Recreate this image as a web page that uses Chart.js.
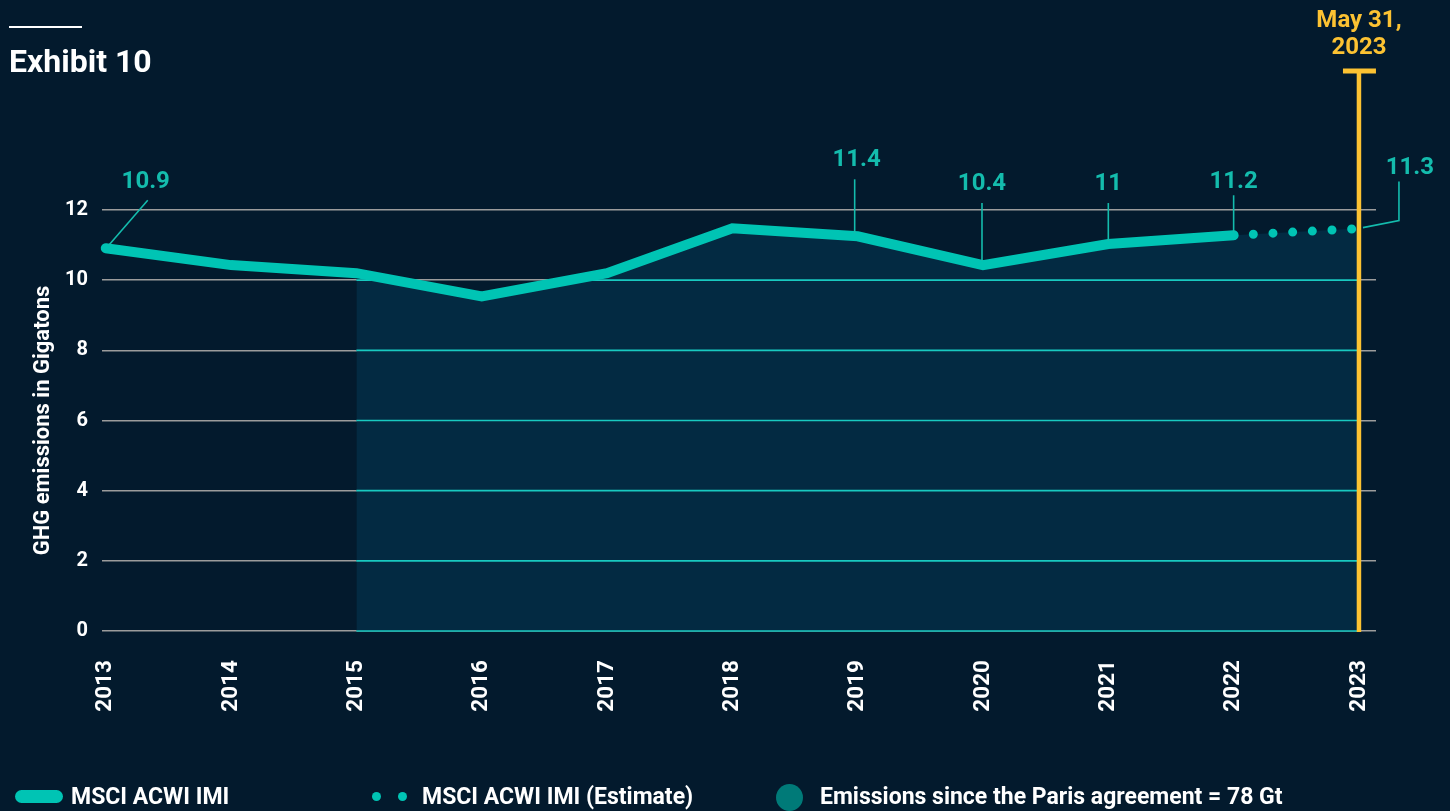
<!DOCTYPE html>
<html>
<head>
<meta charset="utf-8">
<script src="https://cdn.jsdelivr.net/npm/chart.js@4.4.1/dist/chart.umd.min.js"></script>
<style>
  html, body { margin: 0; padding: 0; background: #031a2d; }
  #wrap { position: relative; width: 1450px; height: 811px; background: #031a2d; overflow: hidden; font-family: Roboto, "Noto Sans", sans-serif; }
  #c { position: absolute; left: 0; top: 0; }
  #rule { position: absolute; left: 9px; top: 26px; width: 73px; height: 2px; background: #ffffff; }
  #title { position: absolute; left: 9px; top: 41px; color: #ffffff; font-weight: 700; font-size: 32px; line-height: 40px; }
  .lg { position: absolute; top: 784px; height: 26px; color: #ffffff; font-weight: 700; font-size: 23px; line-height: 26px; white-space: nowrap; }
  .sw-line { position: absolute; left: 15px; top: 790px; width: 48px; height: 13px; border-radius: 7px; background: #00c4b4; }
  .sw-dot { position: absolute; top: 792px; width: 9px; height: 9px; border-radius: 50%; background: #00c4b4; }
  .sw-big { position: absolute; left: 776px; top: 784px; width: 27px; height: 27px; border-radius: 50%; background: #007a78; }
</style>
</head>
<body>
<div id="wrap">
  <canvas id="c" width="1450" height="811"></canvas>
  <div id="rule"></div>
  <div id="title">Exhibit 10</div>
  <div class="sw-line"></div>
  <div class="lg" style="left:71px;">MSCI ACWI IMI</div>
  <div class="sw-dot" style="left:372px;"></div>
  <div class="sw-dot" style="left:398px;"></div>
  <div class="lg" style="left:422px;">MSCI ACWI IMI (Estimate)</div>
  <div class="sw-big"></div>
  <div class="lg" style="left:820px;">Emissions since the Paris agreement = 78 Gt</div>
</div>
<script>
// ---- data ----
const years = [2013, 2014, 2015, 2016, 2017, 2018, 2019, 2020, 2021, 2022];
const emissions = [10.91, 10.43, 10.2, 9.54, 10.2, 11.48, 11.25, 10.43, 11.03, 11.28];
const estimateYears = [2022, 2023];
const estimateValues = [11.28, 11.47];
const parisYear = 2015;
const tickYears = [2013, 2014, 2015, 2016, 2017, 2018, 2019, 2020, 2021, 2022, 2023];
const yTickValues = [0, 2, 4, 6, 8, 10, 12];
const labelYears = [2013, 2019, 2020, 2021, 2022, 2023];
const labelTexts = ['10.9', '11.4', '10.4', '11', '11.2', '11.3'];
const markerYear = 2023;
const markerLines = ['May 31,', '2023'];

// ---- styles ----
const TEAL = '#00c4b4';
const TEAL_TEXT = '#14bcad';
const TEAL_GRID = '#19c9c0';
const GREY_GRID = '#9c9c9c';
const FILL = '#032a42';
const YELLOW = '#fcc232';
const FONT = 'Roboto, "Noto Sans", sans-serif';

// label offsets (pixels relative to the data point): leader path and text centre
const labelStyle = [
  { leader: [[3, -3], [42, -48]], text: [40, -66] },
  { leader: [[-3, -3], [-3, -57]], text: [-1, -76] },
  { leader: [[-1, -4], [-1, -62]], text: [-1, -81] },
  { leader: [[0, -3], [0, -41]], text: [0, -60] },
  { leader: [[0, -3], [0, -40]], text: [0, -53] },
  { leader: [[4, -1], [40, -8], [40, -47]], text: [51, -61] }
];

function valueAt(yr) {
  const i = years.indexOf(yr);
  if (i >= 0) return emissions[i];
  const j = estimateYears.indexOf(yr);
  return estimateValues[j];
}

const mainData = years.map((x, i) => ({ x, y: emissions[i] }));
const estData = estimateYears.map((x, i) => ({ x, y: estimateValues[i] }));
const fillData = years.map((x, i) => ({ x, y: emissions[i] }))
  .filter(p => p.x >= parisYear)
  .concat(estData.filter(p => p.x > years[years.length - 1]));

const overlay = {
  id: 'overlay',
  afterDatasetDraw(chart, args) {
    if (args.index !== 0) return;
    const pts = args.meta.data;
    const { ctx, chartArea, scales: { y } } = chart;
    const base = y.getPixelForValue(0) + 3;
    ctx.save();
    ctx.beginPath();
    ctx.moveTo(pts[0].x, base);
    pts.forEach(p => ctx.lineTo(p.x, p.y));
    ctx.lineTo(pts[pts.length - 1].x, base);
    ctx.closePath();
    ctx.clip();
    ctx.strokeStyle = TEAL_GRID;
    ctx.lineWidth = 1.6;
    y.ticks.forEach(t => {
      const py = y.getPixelForValue(t.value);
      ctx.beginPath();
      ctx.moveTo(chartArea.left, py);
      ctx.lineTo(chartArea.right, py);
      ctx.stroke();
    });
    ctx.restore();
  },
  afterDraw(chart) {
    const { ctx, chartArea, scales: { x, y } } = chart;
    ctx.save();
    // marker line
    const mx = x.getPixelForValue(markerYear);
    const topY = chartArea.top - 139;
    ctx.strokeStyle = YELLOW;
    ctx.lineWidth = 4.5;
    ctx.beginPath();
    ctx.moveTo(mx, topY);
    ctx.lineTo(mx, chartArea.bottom + 1);
    ctx.stroke();
    ctx.lineWidth = 5;
    ctx.beginPath();
    ctx.moveTo(mx - 16, topY);
    ctx.lineTo(mx + 17, topY);
    ctx.stroke();
    ctx.fillStyle = YELLOW;
    ctx.font = 'bold 24px ' + FONT;
    ctx.textAlign = 'center';
    ctx.textBaseline = 'middle';
    ctx.fillText(markerLines[0], mx, topY - 50);
    ctx.fillText(markerLines[1], mx, topY - 23);

    // value labels
    ctx.strokeStyle = TEAL_TEXT;
    ctx.fillStyle = TEAL_TEXT;
    ctx.lineWidth = 1.6;
    ctx.font = 'bold 24px ' + FONT;
    labelYears.forEach((yr, i) => {
      const px = x.getPixelForValue(yr);
      const py = y.getPixelForValue(valueAt(yr));
      const st = labelStyle[i];
      ctx.beginPath();
      st.leader.forEach((o, k) => {
        if (k === 0) ctx.moveTo(px + o[0], py + o[1]);
        else ctx.lineTo(px + o[0], py + o[1]);
      });
      ctx.stroke();
      ctx.fillText(labelTexts[i], px + st.text[0], py + st.text[1]);
    });
    ctx.restore();
  }
};

new Chart(document.getElementById('c'), {
  type: 'line',
  data: {
    datasets: [
      {
        label: 'Emissions since the Paris agreement = 78 Gt',
        data: fillData,
        borderWidth: 0,
        pointRadius: 0,
        backgroundColor: FILL,
        fill: 'origin',
        tension: 0,
        order: 3
      },
      {
        label: 'MSCI ACWI IMI (Estimate)',
        data: estData,
        borderColor: TEAL,
        borderWidth: 9,
        borderCapStyle: 'round',
        borderDash: [0, 19.7],
        pointRadius: 0,
        fill: false,
        tension: 0,
        clip: false,
        order: 2
      },
      {
        label: 'MSCI ACWI IMI',
        data: mainData,
        borderColor: TEAL,
        borderWidth: 10,
        borderCapStyle: 'round',
        borderJoinStyle: 'miter',
        pointRadius: 0,
        fill: false,
        tension: 0,
        clip: false,
        order: 1
      }
    ]
  },
  options: {
    responsive: false,
    animation: false,
    layout: { padding: { left: 0, right: 74, top: 210, bottom: 90 } },
    plugins: { legend: { display: false }, title: { display: false }, tooltip: { enabled: false } },
    scales: {
      x: {
        type: 'linear',
        min: 2012.97,
        max: 2023.136,
        afterBuildTicks: s => { s.ticks = tickYears.map(v => ({ value: v })); },
        afterFit: s => { s.height = 90; },
        grid: { display: false, drawTicks: false },
        border: { display: false },
        ticks: {
          autoSkip: false,
          minRotation: 90,
          maxRotation: 90,
          padding: 29,
          color: '#ffffff',
          font: { family: FONT, weight: 'bold', size: 22.5 },
          callback: v => String(v)
        }
      },
      y: {
        min: 0,
        max: 12,
        afterBuildTicks: s => { s.ticks = yTickValues.map(v => ({ value: v })); },
        afterFit: s => { s.width = 102; },
        grid: { color: GREY_GRID, lineWidth: 1.6, drawTicks: false },
        border: { display: false },
        ticks: {
          padding: 14,
          color: '#ffffff',
          font: { family: FONT, weight: 'bold', size: 20 },
          callback: v => String(v)
        },
        title: {
          display: true,
          text: 'GHG emissions in Gigatons',
          color: '#ffffff',
          font: { family: FONT, weight: 'bold', size: 22 },
          padding: { top: 30, bottom: 0 }
        }
      }
    }
  },
  plugins: [overlay]
});
</script>
</body>
</html>
